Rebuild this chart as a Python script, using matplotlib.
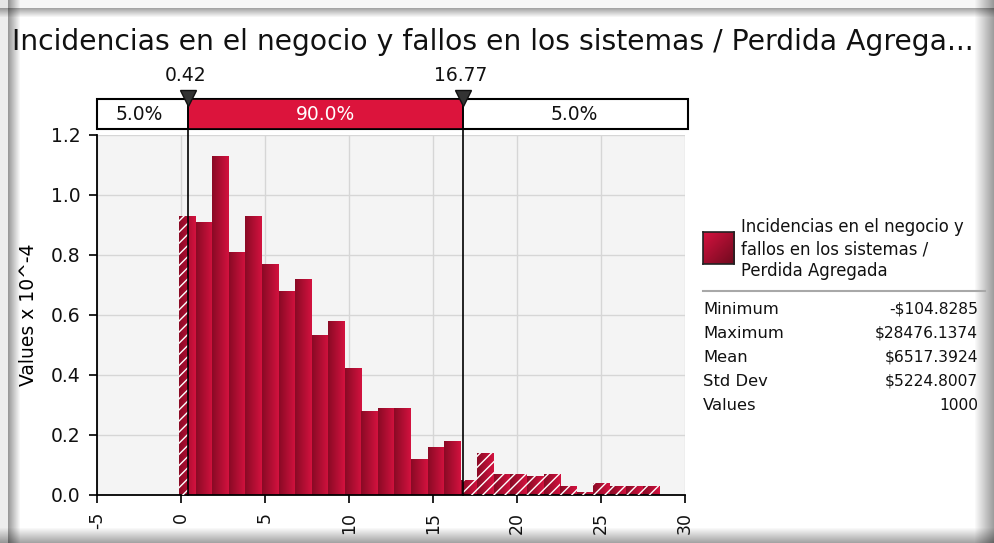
import numpy as np
import matplotlib
matplotlib.use("Agg")
import matplotlib.pyplot as plt
from matplotlib.colors import LinearSegmentedColormap
from matplotlib.lines import Line2D
from matplotlib.patches import Rectangle

plt.rcParams['font.family'] = ['DejaVu Sans']
plt.rcParams['hatch.linewidth'] = 1.0

# histogram of aggregate loss (x in $ thousands, density x 10^-4)
bin_start = -0.105
bin_width = 0.9856
heights = [0.93, 0.91, 1.13, 0.81, 0.93, 0.77, 0.68, 0.72, 0.535, 0.58,
           0.425, 0.28, 0.29, 0.29, 0.12, 0.16, 0.18, 0.05, 0.14, 0.07,
           0.07, 0.063, 0.07, 0.03, 0.01, 0.04, 0.03, 0.03, 0.03]
left_edges = [bin_start + i * bin_width for i in range(len(heights))]

# 90% interval markers
lo_val, hi_val = 0.42, 16.77
pct_labels = ["5.0%", "90.0%", "5.0%"]

title = "Incidencias en el negocio y fallos en los sistemas / Perdida Agrega..."
legend_name = "Incidencias en el negocio y\nfallos en los sistemas /\nPerdida Agregada"
stat_names = ["Minimum", "Maximum", "Mean", "Std Dev", "Values"]
stat_values = ["-$104.8285", "$28476.1374", "$6517.3924", "$5224.8007", "1000"]

W, H = 995, 543
fig = plt.figure(figsize=(W / 100, H / 100), dpi=100)

# panel background with soft inner shadow along the edges
xs = np.arange(W)
ys = np.arange(H)
left = np.clip(0.6 + (xs - 8) / 12 * 0.4, 0.6, 1.0)
left[:8] = 0.93
top = np.clip(0.65 + (ys - 8) / 9 * 0.35, 0.65, 1.0)
top[:8] = 0.97
right = np.clip(1.0 - (xs - 974) / 21 * 0.42, 0.58, 1.0)
bottom = np.clip(1.0 - (ys - 527) / 16 * 0.38, 0.62, 1.0)
bg = left[None, :] * right[None, :] * top[:, None] * bottom[:, None]
fig.figimage(np.dstack([bg, bg, bg]), xo=0, yo=0, origin='upper', zorder=-5)

fig.text(12 / W, 1 - 42 / H, title, fontsize=20.3, va='center', ha='left', color='#111111')

ax = fig.add_axes([97 / W, 1 - 495 / H, 588 / W, 360 / H])
ax.set_facecolor('#f4f4f4')
ax.set_zorder(3)

bar_cmap = LinearSegmentedColormap.from_list('bar', ['#8a0a25', '#d3123f'])
grad = np.linspace(0, 1, 64).reshape(1, -1)

bars = ax.bar(left_edges, heights, width=bin_width, align='edge', color='none',
              linewidth=0, zorder=2)
for b in bars:
    x0, w, h = b.get_x(), b.get_width(), b.get_height()
    im = ax.imshow(grad, cmap=bar_cmap, extent=(x0, x0 + w, 0, h),
                   aspect='auto', interpolation='bilinear', zorder=2)
    im.set_clip_path(b)
    # tails outside the 90% band are hatched
    if x0 < lo_val:
        ax.bar(x0, h, width=min(x0 + w, lo_val) - x0, align='edge', color='none',
               edgecolor='white', hatch='///', linewidth=0, zorder=3)
    if x0 + w > hi_val:
        s = max(x0, hi_val)
        ax.bar(s, h, width=x0 + w - s, align='edge', color='none',
               edgecolor='white', hatch='///', linewidth=0, zorder=3)

ax.set_xlim(-5, 30)
ax.set_ylim(0, 1.2)
ax.set_xticks(range(-5, 31, 5))
ax.set_xticklabels([str(v) for v in range(-5, 31, 5)], rotation=90, fontsize=12.5)
ax.set_yticks(np.arange(0, 1.21, 0.2))
ax.set_yticklabels(["%.1f" % v for v in np.arange(0, 1.21, 0.2)], fontsize=13.5)
ax.grid(True, color='#d6d6d6', linewidth=1)
ax.set_axisbelow(True)
for side in ['top', 'right']:
    ax.spines[side].set_visible(False)
for side in ['left', 'bottom']:
    ax.spines[side].set_linewidth(1.3)
ax.tick_params(direction='out', length=6, width=1.3, pad=6, colors='#111111')
ax.set_ylabel("Values x 10^-4", fontsize=13.5, labelpad=9)

# percentile strip above the plot
strip_y0, strip_h = 1.22, 0.10
ax.add_patch(Rectangle((-5, strip_y0), 35.2, strip_h, facecolor='white',
                       edgecolor='black', linewidth=1.5, clip_on=False, zorder=4))
ax.add_patch(Rectangle((lo_val, strip_y0), hi_val - lo_val, strip_h,
                       facecolor='#dc143c', edgecolor='black', linewidth=1.2,
                       clip_on=False, zorder=4))
seg_centers = [(-5 + lo_val) / 2 - 0.2, (lo_val + hi_val) / 2, (hi_val + 30) / 2]
seg_colors = ['#111111', 'white', '#111111']
for cx, lab, c in zip(seg_centers, pct_labels, seg_colors):
    ax.text(cx, strip_y0 + strip_h / 2, lab, ha='center', va='center',
            fontsize=13.5, color=c, zorder=5, clip_on=False)

for v in [lo_val, hi_val]:
    ax.plot([v, v], [0, 1.343], color='black', linewidth=1.2, clip_on=False, zorder=6)
    ax.plot([v], [1.323], marker='v', markersize=11, color='#333333',
            markeredgecolor='#111111', clip_on=False, zorder=7)
    ax.text(v - 0.15, 1.397, "%.2f" % v, ha='center', va='center', fontsize=13.5,
            clip_on=False, color='#111111')

# legend swatch
sw = fig.add_axes([703 / W, 1 - 264 / H, 31 / W, 32 / H])
sw.set_zorder(3)
yy, xx = np.mgrid[0:1:32j, 0:1:32j]
sw_cmap = LinearSegmentedColormap.from_list('sw', ['#d5123f', '#6e0a1e'])
sw.imshow((xx + yy) / 2, cmap=sw_cmap, aspect='auto', interpolation='bilinear')
sw.set_xticks([])
sw.set_yticks([])
for s in sw.spines.values():
    s.set_linewidth(1.2)
    s.set_color('#222222')

fig.text(741 / W, 1 - 249 / H, legend_name, fontsize=11.9, va='center', ha='left',
         linespacing=1.3, color='#111111')
fig.add_artist(Line2D([703 / W, 985 / W], [1 - 291 / H] * 2, color='#a8a8a8', linewidth=1.5))

row_y = [309, 333, 357, 381, 405]
for yp, name, val in zip(row_y, stat_names, stat_values):
    fig.text(703 / W, 1 - yp / H, name, fontsize=11.8, va='center', ha='left', color='#111111')
    fig.text(978 / W, 1 - yp / H, val, fontsize=11.2, va='center', ha='right', color='#111111')

fig.savefig("out.png", dpi=100)
